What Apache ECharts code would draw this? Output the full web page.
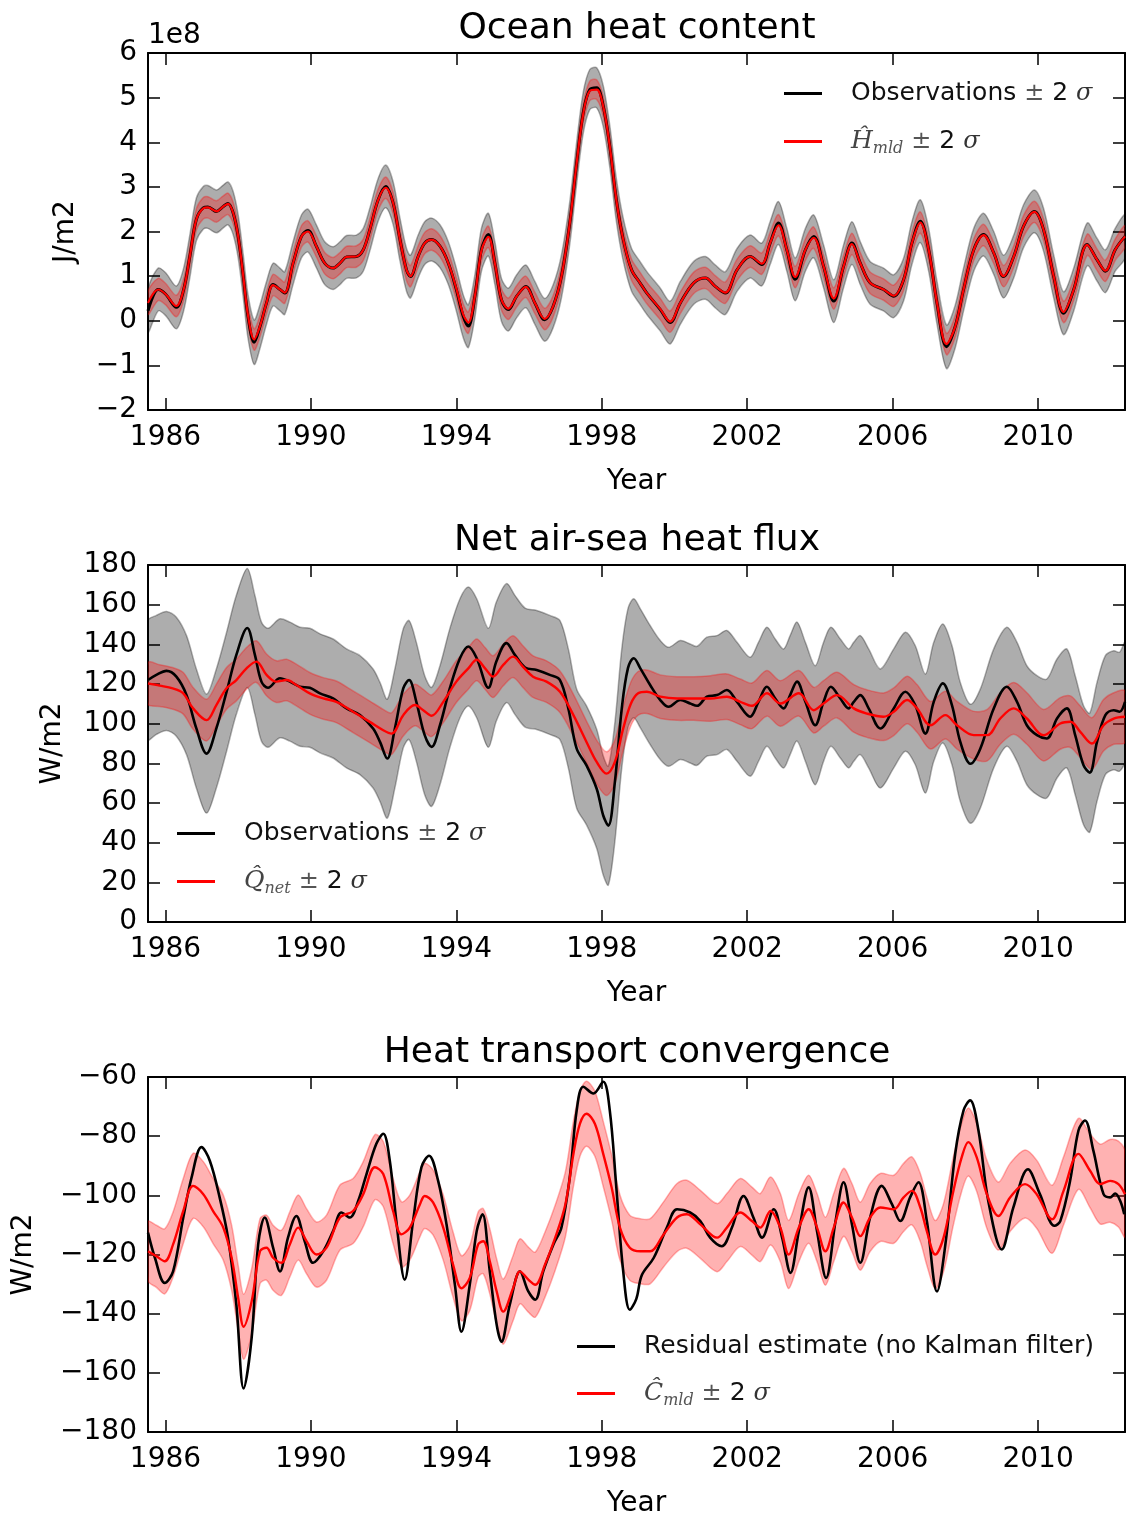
<!DOCTYPE html>
<html><head><meta charset="utf-8">
<script src="https://cdn.jsdelivr.net/npm/echarts@6/dist/echarts.min.js"></script>
<style>html,body{margin:0;padding:0;background:#fff}#c{width:1127px;height:1519px}</style>
</head><body><div id="c"></div>
<script>
// ---------------- axis / tick data ----------------
const xTickValues = [1986, 1990, 1994, 1998, 2002, 2006, 2010];
const xRange = [1985.52, 2012.39];
const yRanges = [[-2, 6, 1], [0, 180, 20], [-180, -60, 20]];
const titles = ['Ocean heat content', 'Net air-sea heat flux', 'Heat transport convergence'];
const yNames = ['J/m2', 'W/m2', 'W/m2'];

// ---------------- Panel 1: Ocean heat content (units of 1e8 J/m2) ----------------
const p1Years = [
  1985.52,1985.80,1986.00,1986.30,1986.50,1986.67,1986.85,1987.04,1987.17,1987.40,
  1987.59,1987.72,1987.86,1988.00,1988.14,1988.27,1988.44,1988.60,1988.78,1988.96,
  1989.15,1989.28,1989.51,1989.74,1989.92,1990.15,1990.38,1990.61,1990.80,1990.98,
  1991.25,1991.44,1991.62,1991.85,1992.06,1992.26,1992.45,1992.63,1992.74,1992.95,
  1993.13,1993.32,1993.55,1993.78,1994.00,1994.19,1994.33,1994.51,1994.69,1994.88,
  1995.06,1995.24,1995.43,1995.66,1995.91,1996.16,1996.43,1996.66,1996.89,1997.12,
  1997.31,1997.49,1997.67,1997.86,1998.04,1998.22,1998.40,1998.59,1998.82,1999.05,
  1999.24,1999.61,1999.88,2000.16,2000.53,2000.85,2001.12,2001.40,2001.72,2002.08,
  2002.40,2002.63,2002.86,2003.09,2003.32,2003.60,2003.83,2004.10,2004.38,2004.65,
  2004.88,2005.11,2005.38,2005.75,2006.03,2006.30,2006.53,2006.76,2006.99,2007.22,
  2007.48,2007.72,2007.95,2008.23,2008.50,2008.78,2009.05,2009.33,2009.60,2009.90,
  2010.15,2010.43,2010.70,2010.98,2011.35,2011.62,2011.85,2012.12,2012.39
];
const p1Obs = [
  0.22,0.70,0.60,0.30,0.70,1.44,2.27,2.53,2.55,2.45,
  2.56,2.63,2.42,1.89,1.00,0.10,-0.48,-0.13,0.40,0.81,
  0.70,0.62,1.29,1.89,2.02,1.67,1.29,1.18,1.29,1.43,
  1.44,1.59,2.04,2.71,3.01,2.64,1.82,1.14,0.99,1.44,
  1.74,1.82,1.67,1.29,0.70,0.10,-0.12,0.55,1.59,1.93,
  1.29,0.47,0.25,0.55,0.77,0.40,0.02,0.32,0.99,2.19,
  3.54,4.66,5.18,5.22,4.81,3.91,2.71,1.82,1.14,0.85,
  0.62,0.25,-0.04,0.40,0.85,0.96,0.77,0.62,1.14,1.44,
  1.26,1.74,2.19,1.59,0.93,1.59,1.89,1.22,0.44,1.22,
  1.74,1.29,0.85,0.70,0.55,0.92,1.74,2.23,1.59,0.40,
  -0.58,-0.13,0.70,1.59,1.93,1.52,0.99,1.44,2.12,2.45,
  2.04,0.99,0.17,0.70,1.71,1.37,1.11,1.59,1.89
];
const p1ObsSig = [
  0.48,0.48,0.48,0.48,0.48,0.48,0.48,0.48,0.48,0.48,
  0.48,0.48,0.48,0.48,0.48,0.49,0.50,0.49,0.48,0.48,
  0.48,0.48,0.48,0.48,0.48,0.48,0.48,0.48,0.48,0.48,
  0.48,0.48,0.48,0.48,0.48,0.48,0.48,0.48,0.48,0.48,
  0.48,0.48,0.48,0.48,0.48,0.48,0.48,0.48,0.48,0.48,
  0.48,0.48,0.48,0.48,0.48,0.48,0.48,0.48,0.48,0.48,
  0.47,0.46,0.45,0.45,0.46,0.47,0.48,0.48,0.48,0.48,
  0.48,0.48,0.48,0.48,0.48,0.48,0.48,0.48,0.48,0.48,
  0.48,0.48,0.48,0.48,0.48,0.48,0.48,0.48,0.48,0.48,
  0.48,0.48,0.48,0.48,0.48,0.48,0.48,0.48,0.48,0.48,
  0.49,0.48,0.48,0.48,0.48,0.48,0.48,0.48,0.48,0.48,
  0.48,0.48,0.48,0.48,0.48,0.48,0.48,0.48,0.48
];
const p1Model = [
  0.40,0.70,0.60,0.33,0.70,1.44,2.27,2.52,2.54,2.45,
  2.56,2.62,2.42,1.89,1.00,0.12,-0.42,-0.12,0.40,0.80,
  0.70,0.63,1.29,1.89,2.00,1.67,1.29,1.18,1.29,1.43,
  1.44,1.59,2.04,2.71,2.98,2.64,1.82,1.14,1.00,1.44,
  1.74,1.82,1.67,1.29,0.72,0.14,-0.04,0.55,1.57,1.88,
  1.29,0.48,0.27,0.55,0.76,0.40,0.04,0.32,0.99,2.19,
  3.54,4.64,5.15,5.18,4.80,3.91,2.71,1.82,1.14,0.85,
  0.62,0.26,-0.02,0.40,0.85,0.96,0.77,0.63,1.14,1.44,
  1.28,1.74,2.14,1.59,0.98,1.59,1.86,1.22,0.50,1.22,
  1.72,1.29,0.85,0.70,0.56,0.92,1.74,2.20,1.59,0.40,
  -0.52,-0.13,0.70,1.59,1.92,1.52,1.00,1.44,2.12,2.44,
  2.04,0.99,0.20,0.70,1.70,1.37,1.12,1.59,1.89
];
const p1ModelSig = [
  0.26,0.25,0.24,0.24,0.24,0.24,0.24,0.24,0.24,0.24,
  0.24,0.24,0.24,0.24,0.24,0.24,0.24,0.24,0.24,0.24,
  0.24,0.24,0.24,0.24,0.24,0.24,0.24,0.24,0.24,0.24,
  0.24,0.24,0.24,0.24,0.24,0.24,0.24,0.24,0.24,0.24,
  0.24,0.24,0.24,0.24,0.24,0.24,0.24,0.24,0.24,0.24,
  0.24,0.24,0.24,0.24,0.24,0.24,0.24,0.24,0.24,0.24,
  0.23,0.22,0.22,0.22,0.22,0.23,0.24,0.24,0.24,0.24,
  0.24,0.24,0.24,0.24,0.24,0.24,0.24,0.24,0.24,0.24,
  0.24,0.24,0.24,0.24,0.24,0.24,0.24,0.24,0.24,0.24,
  0.24,0.24,0.24,0.24,0.24,0.24,0.24,0.24,0.24,0.24,
  0.24,0.24,0.24,0.24,0.24,0.24,0.24,0.24,0.24,0.24,
  0.24,0.24,0.24,0.24,0.24,0.24,0.24,0.24,0.24
];

// ---------------- Panel 2: Net air-sea heat flux (W/m2) ----------------
const p2ObsYears = [
  1985.52,1985.75,1986.03,1986.30,1986.58,1986.85,1987.13,1987.40,1987.68,1987.95,
  1988.25,1988.46,1988.64,1988.82,1989.15,1989.42,1989.70,1989.97,1990.25,1990.61,
  1990.98,1991.35,1991.71,1991.90,1992.10,1992.31,1992.54,1992.70,1992.90,1993.13,
  1993.32,1993.55,1993.82,1994.10,1994.33,1994.56,1994.88,1995.10,1995.38,1995.61,
  1995.89,1996.21,1996.57,1996.85,1997.08,1997.31,1997.58,1997.86,1998.04,1998.18,
  1998.36,1998.55,1998.72,1998.88,1999.06,1999.33,1999.61,1999.84,2000.16,2000.43,
  2000.62,2000.89,2001.17,2001.44,2001.72,2002.08,2002.31,2002.54,2002.77,2003.00,
  2003.18,2003.37,2003.60,2003.87,2004.10,2004.30,2004.56,2004.79,2004.93,2005.11,
  2005.34,2005.66,2006.03,2006.35,2006.62,2006.90,2007.13,2007.38,2007.63,2007.86,
  2008.14,2008.41,2008.78,2009.14,2009.42,2009.69,2009.97,2010.24,2010.52,2010.79,
  2011.02,2011.25,2011.42,2011.62,2011.85,2012.08,2012.24,2012.39
];
const p2Obs = [
  122,124.6,126.6,123.7,114.4,97.6,84.9,97.6,116,134.7,
  148.2,134.7,121.2,118.1,122.9,121.2,118.6,118.1,115.3,112.7,
  107.7,104.3,97.6,90.8,82.4,97.6,117.8,122,111,94.2,
  88.3,99.2,117.8,133,138.9,133,118.1,131.3,140.6,134.7,
  128.3,127.1,124.6,122,107.7,87.4,79,67.2,53.7,48.6,
  70.5,107.7,128,133,127.9,119.5,111.9,108.5,111.9,110.2,
  109,113.6,114.4,117,111,103.5,111,118.6,112.7,107.7,
  114.4,121.2,111,99.2,111,118.6,112.7,107.7,111,114.4,
  107.7,97.6,107.7,116.1,109.4,95,111,120.3,109.4,90.8,
  79.8,87.4,107.7,118.6,111,99.2,94.2,92.5,102.6,107.7,
  94.2,79,75.3,90.8,104.3,106.8,106,111
];
const p2ObsSig = [
  30,30,30,30,30,30,30,30,30,30,
  30,30,30,30,30,30,30,30,30,30,
  30,30,30,30,30,30,30,30,30,30,
  30,30,30,30,30,30,30,30,30,30,
  30,30,30,30,30,30,30,30,30,30,
  30,30,30,30,30,30,30,30,30,30,
  30,30,30,30,30,30,30,30,30,30,
  30,30,30,30,30,30,30,30,30,30,
  30,30,30,30,30,30,30,30,30,30,
  30,30,30,30,30,30,30,30,30,30,
  30,30,30,30,30,30,30,30
];
const p2ModelYears = [
  1985.52,1985.84,1986.20,1986.49,1986.76,1987.13,1987.40,1987.68,1987.95,1988.23,
  1988.50,1988.78,1989.05,1989.33,1989.60,1989.97,1990.34,1990.70,1991.16,1991.62,
  1991.99,1992.22,1992.54,1992.86,1993.09,1993.32,1993.64,1994.00,1994.33,1994.56,
  1994.79,1995.01,1995.29,1995.56,1995.83,1996.11,1996.48,1996.85,1997.22,1997.58,
  1997.86,1998.13,1998.36,1998.59,1998.80,1999.00,1999.24,1999.61,2000.07,2000.53,
  2000.99,2001.44,2001.81,2002.13,2002.54,2002.91,2003.42,2003.83,2004.10,2004.47,
  2004.93,2005.29,2005.75,2006.03,2006.40,2006.67,2007.04,2007.45,2007.77,2008.23,
  2008.60,2008.96,2009.33,2009.69,2010.15,2010.61,2010.89,2011.16,2011.48,2011.80,
  2012.08,2012.39
];
const p2Model = [
  120.3,119.2,117.8,115.3,107.7,101.8,109.4,117.8,122,127.9,
  131.3,124.6,121.2,122,119.5,115.3,112.7,111,106,100.9,
  96.7,95,104.3,109.4,106.8,104,111,121.2,127.9,132.2,
  127.9,123.7,129.6,133.8,128.8,123.7,121.2,116.1,104.3,90.8,
  80.7,74.8,80.7,97.6,110,115.3,116.1,113.6,112.7,112.7,
  112.7,113.6,111,109,115.3,110.2,115.3,106.8,110.2,114.4,
  107.7,105.1,103.5,106,111.9,107.7,99.2,104.3,99.2,94.2,
  94.2,102.6,107.7,102.6,94.2,100.1,101,95.9,90,99.2,
  102.6,103.5
];
const p2ModelSig = [
  10.5,10.5,10.5,10.5,10.5,10.5,10.5,10.5,10.5,10.5,
  10.5,10.5,10.5,10.5,10.5,10.5,10.5,10.5,10.5,10.5,
  10.5,10.5,10.5,10.5,10.5,10.5,10.5,10.5,10.5,10.5,
  10.5,10.5,10.5,10.5,10.5,10.5,10.5,10.5,10.5,10.5,
  11,11,11,11,11,11,11,11,11,11,
  11.5,11.5,11.5,11.5,11.5,11.5,11.5,11.5,11.5,11.5,
  12,12,12,12,12,12,12,12,12,12,
  13,13,13,13,13,13,13,13,13,13,
  13,13
];

// ---------------- Panel 3: Heat transport convergence (W/m2) ----------------
const p3ObsYears = [
  1985.52,1985.71,1985.98,1986.21,1986.49,1986.72,1986.99,1987.22,1987.49,1987.72,
  1987.95,1988.15,1988.37,1988.55,1988.73,1988.96,1989.15,1989.37,1989.60,1989.83,
  1990.06,1990.34,1990.61,1990.84,1991.07,1991.30,1991.53,1991.80,1991.99,1992.17,
  1992.35,1992.58,1992.81,1993.04,1993.25,1993.50,1993.73,1993.96,1994.14,1994.37,
  1994.56,1994.72,1994.92,1995.11,1995.24,1995.47,1995.75,1995.98,1996.17,1996.39,
  1996.67,1996.89,1997.12,1997.31,1997.49,1997.77,1998.04,1998.22,1998.40,1998.59,
  1998.77,1998.95,1999.10,1999.43,1999.79,2000.07,2000.43,2000.71,2000.98,2001.30,
  2001.58,2001.90,2002.17,2002.41,2002.73,2002.96,2003.19,2003.42,2003.69,2003.92,
  2004.17,2004.43,2004.65,2004.88,2005.11,2005.38,2005.70,2005.98,2006.21,2006.48,
  2006.71,2006.94,2007.22,2007.45,2007.72,2007.95,2008.13,2008.36,2008.63,2009.00,
  2009.32,2009.72,2010.05,2010.45,2010.61,2010.88,2011.11,2011.29,2011.52,2011.80,
  2011.98,2012.12,2012.26,2012.37
];
const p3Obs = [
  -112.6,-121.1,-129.6,-125.7,-107.5,-93.9,-83.7,-88.3,-100.7,-114.3,
  -137,-165.3,-148.3,-116.6,-107.5,-117.7,-125.7,-114.3,-107,-115.5,
  -122.8,-118.9,-112.1,-105.8,-107.5,-101.9,-92.8,-82.6,-79.2,-88.3,
  -108.7,-128.5,-108.7,-90.5,-86.6,-95.1,-109.8,-130.2,-146.1,-130.2,
  -112.1,-106.4,-125.7,-143.8,-149.5,-137,-125.7,-132.5,-135.3,-125.7,
  -116.6,-110.9,-93.9,-71.3,-63.3,-65.6,-61.6,-71.3,-97.3,-125.7,
  -138.7,-135,-127,-121.1,-110.9,-104.7,-105.8,-108.7,-114.3,-117.2,
  -110.9,-100.2,-107.5,-114.3,-104.7,-114.3,-126.2,-112.1,-97.3,-112.1,
  -127.9,-108.7,-95.6,-109.8,-122.8,-107.5,-96.8,-103,-108.7,-100.7,
  -95.6,-108.7,-132.5,-116.6,-86,-71.3,-67.9,-78.1,-101.9,-118.3,
  -104.1,-91.2,-99.6,-110.3,-108.7,-95.1,-78.1,-74.7,-84.9,-99.6,
  -100.7,-99.4,-101.9,-106.4
];
const p3ModelYears = [
  1985.52,1985.75,1985.98,1986.21,1986.49,1986.76,1987.04,1987.31,1987.59,1987.82,
  1988.00,1988.15,1988.37,1988.60,1988.78,1988.96,1989.19,1989.42,1989.65,1989.88,
  1990.15,1990.43,1990.80,1991.16,1991.44,1991.76,1991.99,1992.26,1992.49,1992.72,
  1993.00,1993.13,1993.36,1993.64,1993.91,1994.14,1994.37,1994.60,1994.74,1994.92,
  1995.11,1995.29,1995.56,1995.75,1995.98,1996.17,1996.44,1996.72,1997.00,1997.22,
  1997.40,1997.58,1997.81,1998.04,1998.27,1998.50,1998.77,1999.06,1999.33,1999.70,
  2000.07,2000.34,2000.71,2001.17,2001.44,2001.81,2002.13,2002.36,2002.64,2002.91,
  2003.14,2003.42,2003.69,2003.92,2004.15,2004.38,2004.65,2004.88,2005.11,2005.38,
  2005.66,2006.03,2006.30,2006.53,2006.76,2006.94,2007.17,2007.40,2007.67,2007.90,
  2008.08,2008.31,2008.59,2008.91,2009.23,2009.64,2009.96,2010.38,2010.70,2011.11,
  2011.43,2011.71,2011.98,2012.21,2012.39
];
const p3Model = [
  -118.9,-120.6,-122.3,-116.6,-105.3,-96.8,-99.6,-105.3,-110.9,-121.1,
  -134.7,-144.4,-135.9,-118.9,-117.7,-121.1,-122.8,-116.6,-110.9,-115.5,
  -120,-117.7,-107.5,-105.3,-99.6,-90.5,-92.8,-105.3,-113.2,-110.9,
  -103,-100.2,-102.4,-110.9,-123.4,-131.4,-127.9,-116.6,-115.5,-122.3,
  -132.5,-139.3,-131.4,-125.7,-128.5,-130.2,-123.4,-114.3,-103,-86,
  -75.8,-72.4,-75.8,-86,-97.3,-110.9,-117.7,-118.9,-118.9,-113.2,
  -107.5,-106.4,-109.8,-114.3,-110.9,-105.8,-108.7,-110.9,-105.3,-110.9,
  -120,-110.9,-104.7,-110.9,-118.9,-110.9,-102.4,-107.5,-113.8,-107.5,
  -104.1,-104.7,-100.7,-98.5,-104.1,-112.1,-120,-114.3,-98.5,-87.1,
  -82,-87.1,-99.6,-107,-100.7,-96.2,-99.6,-108.1,-98.5,-86,
  -91.7,-96.2,-95.1,-96.2,-99.6
];
const p3ModelSig = [
  10,10.5,11,11,11,11,11,11,11,11,
  11,11,11,11,11,11,11,11,11,11,
  11,11,11,11,11,11,11,11,11,11,
  11,11,11,11,11,11,11,11,11,11,
  11,11,11,11,11,11,11,11,11,11,
  11,11,11,11,11,11,11,11,11,11,
  11.5,11.5,11.5,11.5,11.5,11.5,11.5,11.5,11.5,11.5,
  11.5,11.5,11.5,11.5,11.5,11.5,11.5,11.5,11.5,11.5,
  11.5,11.5,11.5,11.5,11.5,11.5,11.5,11.5,11.5,11.5,
  11.5,11.5,11.5,11.5,11.5,11.5,11.5,11.5,11.5,12,
  12.5,13.5,14,14.5,14.5
];

// ---------------- legend labels ----------------
const legendLabels = {
  obs1: '{t|Observations} {pm|\u00b1} {t|2} {sg|\u03c3}',
  mod1: '{m|\u0124}{sub|mld} {pm|\u00b1} {t|2} {sg|\u03c3}',
  obs2: '{t|Observations} {pm|\u00b1} {t|2} {sg|\u03c3}',
  mod2: '{m|Q\u0302}{sub|net} {pm|\u00b1} {t|2} {sg|\u03c3}',
  obs3: '{t|Residual estimate (no Kalman filter)}',
  mod3: '{m|\u0108}{sub|mld} {pm|\u00b1} {t|2} {sg|\u03c3}'
};

// ---------------- build chart ----------------
const FONT = 'DejaVu Sans';
const grids = [
  {left: 148, top: 53, width: 977, height: 357},
  {left: 148, top: 565, width: 977, height: 357},
  {left: 148, top: 1077, width: 977, height: 357}
];
const yNameGaps = [68, 81, 110];
const SMOOTH = 0.35;

function pairs(xs, ys) { return xs.map((x, i) => [x, ys[i]]); }

function lineSeries(name, ai, xs, ys, color, width, z) {
  return {
    type: 'line', name: name, xAxisIndex: ai * 2, yAxisIndex: ai * 2,
    data: pairs(xs, ys), symbol: 'none', smooth: SMOOTH, z: z,
    color: color, itemStyle: {color: color},
    lineStyle: {color: color, width: width}, silent: true
  };
}

// uncertainty band: value +/- 2 sigma, drawn as one smoothed polygon through the axes' coords
function bandSeries(ai, xs, ys, sig, fill, edge, z) {
  return {
    type: 'custom', xAxisIndex: ai * 2, yAxisIndex: ai * 2, z: z, silent: true,
    data: xs.map((x, i) => [x, ys[i] - sig[i], ys[i] + sig[i]]),
    encode: {x: 0, y: [1, 2]},
    renderItem: function (params, api) {
      if (params.dataIndexInside !== 0) return null;
      const n = params.dataInsideLength;
      const up = [], lo = [];
      for (let j = 0; j < n; j++) {
        up.push(api.coord([api.value(0, j), api.value(2, j)]));
        lo.push(api.coord([api.value(0, j), api.value(1, j)]));
      }
      const cs = params.coordSys;
      return {
        type: 'group',
        clipPath: {type: 'rect', shape: {x: cs.x, y: cs.y, width: cs.width, height: cs.height}},
        children: [
          {type: 'polygon', shape: {points: up.concat(lo.reverse()), smooth: 0.3},
           style: {fill: fill, stroke: edge, lineWidth: 1.5}}
        ]
      };
    }
  };
}

const GRAY_FILL = 'rgba(0,0,0,0.32)', GRAY_EDGE = 'rgba(0,0,0,0.3)';
const RED_FILL = 'rgba(255,0,0,0.3)', RED_EDGE = 'rgba(255,0,0,0.3)';

const series = [
  bandSeries(0, p1Years, p1Obs, p1ObsSig, GRAY_FILL, GRAY_EDGE, 2),
  bandSeries(0, p1Years, p1Model, p1ModelSig, RED_FILL, RED_EDGE, 3),
  lineSeries('obs1', 0, p1Years, p1Obs, '#000', 3, 4),
  lineSeries('mod1', 0, p1Years, p1Model, '#ff0000', 2.2, 5),
  bandSeries(1, p2ObsYears, p2Obs, p2ObsSig, GRAY_FILL, GRAY_EDGE, 2),
  bandSeries(1, p2ModelYears, p2Model, p2ModelSig, RED_FILL, RED_EDGE, 3),
  lineSeries('obs2', 1, p2ObsYears, p2Obs, '#000', 2.6, 4),
  lineSeries('mod2', 1, p2ModelYears, p2Model, '#ff0000', 2.4, 5),
  bandSeries(2, p3ModelYears, p3Model, p3ModelSig, RED_FILL, RED_EDGE, 3),
  lineSeries('obs3', 2, p3ObsYears, p3Obs, '#000', 2.6, 4),
  lineSeries('mod3', 2, p3ModelYears, p3Model, '#ff0000', 2.4, 5)
];

const axisLineStyle = {color: '#000', width: 2};
const tickStyle = {color: '#000', width: 1.5};
const xAxis = [], yAxis = [];
for (let i = 0; i < 3; i++) {
  xAxis.push({
    type: 'value', gridIndex: i, position: 'bottom', min: xRange[0], max: xRange[1],
    name: 'Year', nameLocation: 'middle', nameGap: 58,
    nameTextStyle: {fontFamily: FONT, fontSize: 28, color: '#000'},
    axisLine: {onZero: false, lineStyle: axisLineStyle},
    axisTick: {inside: true, length: 12, customValues: xTickValues, lineStyle: tickStyle},
    axisLabel: {customValues: xTickValues, margin: 14, fontFamily: FONT, fontSize: 28, color: '#000',
                formatter: v => String(v)},
    splitLine: {show: false}
  });
  xAxis.push({
    type: 'value', gridIndex: i, position: 'top', min: xRange[0], max: xRange[1],
    axisLine: {onZero: false, lineStyle: axisLineStyle},
    axisTick: {inside: true, length: 12, customValues: xTickValues, lineStyle: tickStyle},
    axisLabel: {show: false}, splitLine: {show: false}
  });
  const [mn, mx, iv] = yRanges[i];
  yAxis.push({
    type: 'value', gridIndex: i, position: 'left', min: mn, max: mx, interval: iv,
    name: yNames[i], nameLocation: 'middle', nameGap: yNameGaps[i], nameRotate: 90,
    nameTextStyle: {fontFamily: FONT, fontSize: 28, color: '#000'},
    axisLine: {show: true, onZero: false, lineStyle: axisLineStyle},
    axisTick: {show: true, inside: true, length: 12, lineStyle: tickStyle},
    axisLabel: {margin: 11, fontFamily: FONT, fontSize: 28, color: '#000',
                formatter: v => String(v).replace('-', '\u2212')},
    splitLine: {show: false}
  });
  yAxis.push({
    type: 'value', gridIndex: i, position: 'right', min: mn, max: mx, interval: iv,
    axisLine: {show: true, onZero: false, lineStyle: axisLineStyle},
    axisTick: {show: true, inside: true, length: 12, lineStyle: tickStyle},
    axisLabel: {show: false}, splitLine: {show: false}
  });
}

const rich = {
  t: {fontFamily: FONT, fontSize: 25, lineHeight: 30, color: '#111'},
  pm: {fontFamily: 'DejaVu Serif', fontSize: 24, lineHeight: 30, color: '#555'},
  sg: {fontFamily: 'DejaVu Serif', fontStyle: 'italic', fontSize: 24, lineHeight: 30, color: '#333'},
  m: {fontFamily: 'DejaVu Serif', fontStyle: 'italic', fontSize: 25, lineHeight: 30, color: '#444'},
  sub: {fontFamily: 'DejaVu Serif', fontStyle: 'italic', fontSize: 16, lineHeight: 14, verticalAlign: 'bottom', color: '#555'}
};
function legendAt(names, left, top, gap) {
  return {
    data: names, left: left, top: top, orient: 'vertical', itemGap: gap, padding: 0,
    itemWidth: 38, itemHeight: 3, icon: 'rect', selectedMode: false,
    formatter: n => legendLabels[n],
    textStyle: {fontFamily: FONT, fontSize: 25, color: '#111', padding: [0, 0, 0, 24], rich: rich}
  };
}

const titleStyle = {fontFamily: FONT, fontSize: 36, fontWeight: 'normal', color: '#000'};
const option = {
  animation: false,
  backgroundColor: '#fff',
  title: [
    {text: titles[0], left: 637, top: 11, textAlign: 'center', padding: 0, textStyle: titleStyle},
    {text: titles[1], left: 637, top: 523, textAlign: 'center', padding: 0, textStyle: titleStyle},
    {text: titles[2], left: 637, top: 1035, textAlign: 'center', padding: 0, textStyle: titleStyle},
    {text: '1e8', left: 148, top: 22, padding: 0, textStyle: {fontFamily: FONT, fontSize: 28, fontWeight: 'normal', color: '#000'}}
  ],
  legend: [
    legendAt(['obs1', 'mod1'], 784, 81, 23),
    legendAt(['obs2', 'mod2'], 177, 821, 23),
    legendAt(['obs3', 'mod3'], 577, 1334, 22)
  ],
  grid: grids,
  xAxis: xAxis,
  yAxis: yAxis,
  series: series
};

const chart = echarts.init(document.getElementById('c'), null, {renderer: 'canvas'});
chart.setOption(option);
</script>
</body></html>
